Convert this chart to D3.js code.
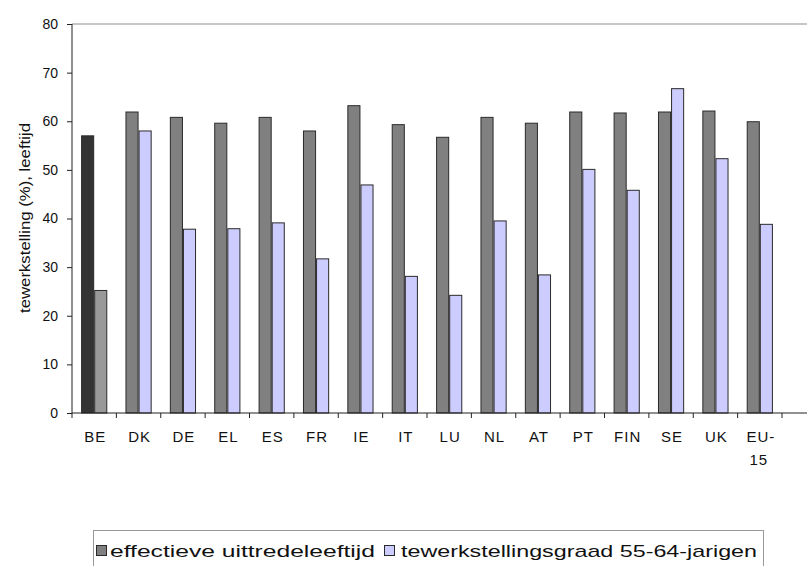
<!DOCTYPE html>
<html>
<head>
<meta charset="utf-8">
<script src="https://cdn.jsdelivr.net/npm/d3@7/dist/d3.min.js"></script>
<style>
  body { margin: 0; background: #fff; }
  svg { display: block; font-family: "Liberation Sans", Arial, sans-serif; }
</style>
</head>
<body>
<svg id="chart" width="807" height="566"></svg>
<script>
// Countries (EU-15 member states plus the EU-15 average)
const categories = ["BE", "DK", "DE", "EL", "ES", "FR", "IE", "IT", "LU", "NL", "AT", "PT", "FIN", "SE", "UK", "EU-15"];
// Effective exit age from the labour market (years)
const exitAge = [57.0, 61.9, 60.8, 59.6, 60.8, 58.0, 63.2, 59.3, 56.7, 60.8, 59.6, 61.9, 61.7, 61.9, 62.1, 59.9];
// Employment rate of 55-64 year olds (%)
const employmentRate = [25.2, 58.0, 37.8, 37.9, 39.1, 31.7, 46.9, 28.1, 24.2, 39.5, 28.4, 50.1, 45.8, 66.7, 52.3, 38.8];
const seriesNames = ["effectieve uittredeleeftijd", "tewerkstellingsgraad 55-64-jarigen"];
const yTicks = [0, 10, 20, 30, 40, 50, 60, 70, 80];
const highlighted = "BE";

const colors = ["#808080", "#ccccff"];
const highlightColors = ["#333333", "#999999"];

const svg = d3.select("#chart");
const plotLeft = 72, plotRight = 782, plotTop = 24, plotBottom = 413;

const x = d3.scaleBand().domain(categories).range([plotLeft, plotRight])
  .paddingInner(0.41).paddingOuter(0.205);
const x1 = d3.scaleBand().domain([0, 1]).range([0, x.bandwidth()]);
const y = d3.scaleLinear().domain([0, 80]).range([plotBottom, plotTop]);

// top frame line of the plot area
svg.append("line")
  .attr("x1", plotLeft).attr("x2", 807).attr("y1", y(80)).attr("y2", y(80))
  .attr("stroke", "#c6c6c6").attr("stroke-width", 2);

// bars
const rows = categories.map((c, i) => ({ c, v: [exitAge[i], employmentRate[i]] }));
const g = svg.append("g");
rows.forEach(r => {
  r.v.forEach((v, s) => {
    g.append("rect")
      .attr("x", x(r.c) + x1(s) + 0.5)
      .attr("y", y(v))
      .attr("width", x1.bandwidth() - 1)
      .attr("height", y(0) - y(v))
      .attr("fill", r.c === highlighted ? highlightColors[s] : colors[s])
      .attr("stroke", "#2a2a2a")
      .attr("stroke-width", 1);
  });
});

// y axis
const yAxis = d3.axisLeft(y).tickValues(yTicks).tickSize(5).tickPadding(9);
const ya = svg.append("g").attr("transform", `translate(${plotLeft},0)`).call(yAxis);
ya.select(".domain").attr("stroke", "#222").attr("d", `M0,${plotTop}V${plotBottom}`);
ya.selectAll(".tick line").attr("stroke", "#222");
ya.selectAll("text").attr("font-size", 14).attr("fill", "#111")
  .attr("font-family", "'Liberation Sans', Arial, sans-serif");

// x axis: line, boundary ticks, labels
const xa = svg.append("g");
xa.append("line").attr("x1", plotLeft).attr("x2", 807).attr("y1", plotBottom).attr("y2", plotBottom)
  .attr("stroke", "#222");
const step = x.step();
const bounds = categories.map(c => x(c) - x.paddingInner() * step / 2).concat([plotRight]);
bounds[0] = plotLeft;
xa.selectAll(".bt").data(bounds).join("line")
  .attr("x1", d => d).attr("x2", d => d).attr("y1", plotBottom).attr("y2", plotBottom + 5)
  .attr("stroke", "#222");
categories.forEach(c => {
  const cx = x(c) + x.bandwidth() / 2;
  const parts = c === "EU-15" ? ["EU-", "15"] : [c];
  parts.forEach((p, k) => {
    xa.append("text")
      .attr("x", cx + (k === 1 ? -1 : 1)).attr("y", 442 + k * 23)
      .attr("text-anchor", "middle").attr("font-size", 15)
      .attr("letter-spacing", 1).attr("fill", "#111").text(p);
  });
});

// y axis title
svg.append("text")
  .attr("transform", "translate(30,218) rotate(-90)")
  .attr("text-anchor", "middle").attr("font-size", 14).attr("fill", "#111")
  .attr("textLength", 190).attr("lengthAdjust", "spacingAndGlyphs")
  .text("tewerkstelling (%), leeftijd");

// legend
const lg = svg.append("g");
lg.append("rect").attr("x", 93.5).attr("y", 530.5).attr("width", 670).attr("height", 40)
  .attr("fill", "#fff").attr("stroke", "#999");
const items = [{ x: 96, tx: 110, w: 265 }, { x: 384, tx: 401, w: 356 }];
seriesNames.forEach((n, i) => {
  lg.append("rect").attr("x", items[i].x + 0.5).attr("y", 545.5).attr("width", 10).attr("height", 10)
    .attr("fill", colors[i]).attr("stroke", "#2a2a2a");
  lg.append("text").attr("x", items[i].tx).attr("y", 557)
    .attr("font-size", 17).attr("fill", "#111")
    .attr("textLength", items[i].w).attr("lengthAdjust", "spacingAndGlyphs")
    .text(n);
});
</script>
</body>
</html>
